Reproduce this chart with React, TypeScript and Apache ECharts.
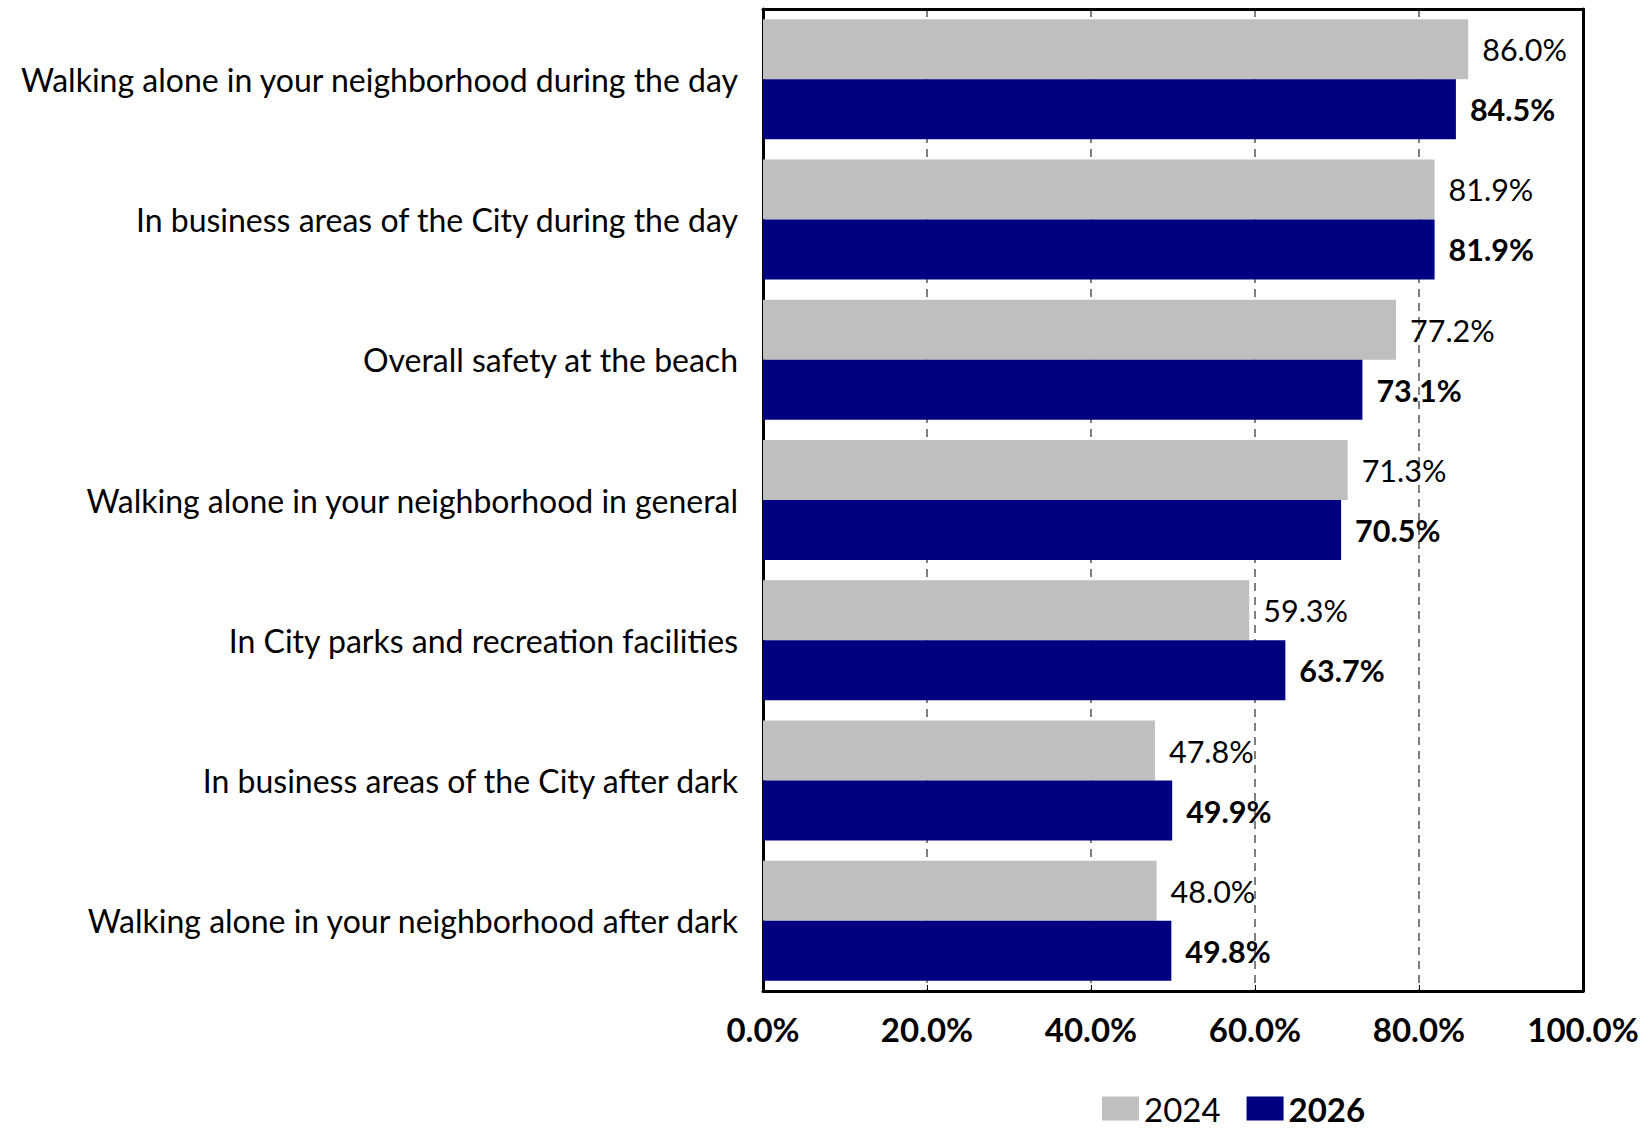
import React, { useEffect, useRef } from "react";
import * as echarts from "echarts";

const categories = [
  "Walking alone in your neighborhood during the day",
  "In business areas of the City during the day",
  "Overall safety at the beach",
  "Walking alone in your neighborhood in general",
  "In City parks and recreation facilities",
  "In business areas of the City after dark",
  "Walking alone in your neighborhood after dark",
];
const values2024 = [86.0, 81.9, 77.2, 71.3, 59.3, 47.8, 48.0];
const values2026 = [84.5, 81.9, 73.1, 70.5, 63.7, 49.9, 49.8];
const seriesNames = ["2024", "2026"];

const FONT = "Lato";

export default function App() {
  const ref = useRef<HTMLDivElement>(null);
  useEffect(() => {
    if (!ref.current) return;
    const chart = echarts.init(ref.current, undefined, { renderer: "svg" });
    const pct = (v: number) => v.toFixed(1) + "%";
    chart.setOption({
      animation: false,
      backgroundColor: "#ffffff",
      textStyle: { fontFamily: FONT },
      grid: { left: 763, right: 69, top: 9, bottom: 138, containLabel: false },
      legend: {
        left: 1102,
        top: 1092,
        padding: 0,
        itemWidth: 37,
        itemHeight: 24,
        itemGap: 26,
        icon: "rect",
        data: seriesNames,
        formatter: (n: string) => (n === "2026" ? "{b|" + n + "}" : "{n|" + n + "}"),
        textStyle: {
          fontFamily: FONT,
          color: "#000",
          padding: [0, 0, 0, 0],
          rich: {
            n: { fontSize: 33, lineHeight: 32, fontFamily: FONT, color: "#000" },
            b: { fontSize: 33, lineHeight: 32, fontWeight: "bold", fontFamily: FONT, color: "#000" },
          },
        },
      },
      xAxis: [
        {
          type: "value",
          min: 0,
          max: 100,
          interval: 20,
          position: "bottom",
          axisLine: { show: true, lineStyle: { color: "#000", width: 3 } },
          axisTick: { show: true, inside: true, length: 6, lineStyle: { color: "#000", width: 1 } },
          axisLabel: {
            formatter: (v: number) => pct(v),
            fontFamily: FONT,
            fontWeight: "bold",
            fontSize: 33,
            color: "#000",
            margin: 21,
          },
          splitLine: {
            show: true,
            lineStyle: { color: "#555", width: 1.5, type: [8, 6] },
          },
        },
        {
          type: "value",
          min: 0,
          max: 100,
          position: "top",
          axisLine: { show: true, onZero: false, lineStyle: { color: "#000", width: 3 } },
          axisTick: { show: false },
          axisLabel: { show: false },
          splitLine: { show: false },
        },
      ],
      yAxis: [
        {
          type: "category",
          data: categories,
          inverse: true,
          axisLine: { show: true, onZero: false, lineStyle: { color: "#000", width: 3 } },
          axisTick: { show: false },
          axisLabel: {
            fontFamily: FONT,
            fontSize: 32,
            color: "#000",
            margin: 25,
          },
        },
        {
          type: "category",
          data: categories,
          inverse: true,
          position: "right",
          axisLine: { show: true, onZero: false, lineStyle: { color: "#000", width: 3 } },
          axisTick: { show: false },
          axisLabel: { show: false },
        },
      ],
      series: [
        {
          name: seriesNames[0],
          type: "bar",
          data: values2024,
          barWidth: 60,
          barGap: "0%",
          itemStyle: { color: "#BFBFBF" },
          label: {
            show: true,
            position: "right",
            distance: 14,
            formatter: (p: any) => pct(p.value),
            fontFamily: FONT,
            fontSize: 30.5,
            color: "#000",
          },
        },
        {
          name: seriesNames[1],
          type: "bar",
          data: values2026,
          barWidth: 60,
          barGap: "0%",
          itemStyle: { color: "#000080" },
          label: {
            show: true,
            position: "right",
            distance: 14,
            formatter: (p: any) => pct(p.value),
            fontFamily: FONT,
            fontWeight: "bold",
            fontSize: 30.5,
            color: "#000",
          },
        },
      ],
    });
    return () => chart.dispose();
  }, []);
  return (
    <div
      ref={ref}
      style={{ position: "fixed", left: 0, top: 0, width: 1652, height: 1129 }}
    />
  );
}
